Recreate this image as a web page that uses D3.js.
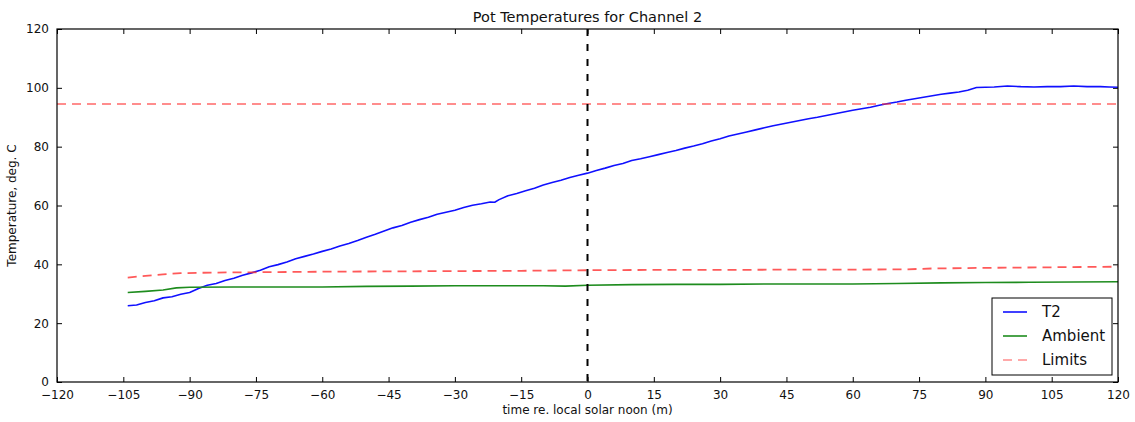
<!DOCTYPE html>
<html>
<head>
<meta charset="utf-8">
<script src="https://cdn.jsdelivr.net/npm/d3@7"></script>
<style>
  html, body { margin: 0; padding: 0; background: #fff; }
  svg { display: block; font-family: "DejaVu Sans", sans-serif; }
</style>
</head>
<body>
<svg id="chart" width="1135" height="422"></svg>
<script>
// Minutes relative to local solar noon
const t2Time = [-104,-102,-100,-98,-96,-94,-92,-90,-88,-86,-84,-82,-80,-78,-76,-74,-72,-70,-68,-66,-64,-62,-60,-58,-56,-54,-52,-50,-48,-46,-44,-42,-40,-38,-36,-34,-32,-30,-28,-26,-24,-22,-21,-20,-18,-16,-14,-12,-10,-8,-6,-4,-2,0,2,4,6,8,10,12,14,16,18,20,22,24,26,28,30,32,34,36,38,40,42,44,46,48,50,52,54,56,58,60,62,64,66,68,70,72,74,76,78,80,82,84,86,88,90,92,95,98,101,104,107,110,113,116,118,120];
// Pot temperature T2 (deg C)
const t2Temp = [25.9,26.2,27.0,27.6,28.6,29.0,29.8,30.4,31.8,32.9,33.5,34.5,35.3,36.3,37.1,38.0,39.2,39.9,40.8,41.9,42.7,43.5,44.4,45.2,46.2,47.1,48.1,49.2,50.2,51.3,52.4,53.2,54.3,55.2,56.0,57.0,57.7,58.4,59.3,60.1,60.6,61.2,61.1,62.0,63.3,64.1,65.0,65.9,67.0,67.8,68.6,69.5,70.3,71.0,71.9,72.7,73.6,74.3,75.3,75.9,76.6,77.3,78.0,78.7,79.5,80.2,81.0,81.9,82.7,83.6,84.3,85.0,85.7,86.4,87.1,87.7,88.3,88.9,89.5,90.0,90.6,91.2,91.8,92.4,92.9,93.4,94.1,94.7,95.2,95.8,96.3,96.8,97.3,97.8,98.2,98.6,99.2,100.1,100.2,100.3,100.6,100.4,100.3,100.4,100.4,100.6,100.4,100.4,100.3,100.2];

const ambTime = [-104,-100,-96,-93,-90,-80,-70,-60,-50,-40,-30,-20,-10,-5,0,10,20,30,40,50,60,70,80,90,100,110,120];
const ambTemp = [30.4,30.8,31.3,32.0,32.2,32.3,32.3,32.3,32.5,32.6,32.7,32.7,32.7,32.6,32.9,33.1,33.2,33.2,33.3,33.3,33.3,33.5,33.7,33.8,33.9,34.0,34.1];

const lowTime = [-104,-100,-96,-92,-85,-75,-60,-45,-30,-15,0,15,30,45,60,72,78,90,105,120];
const lowLimit = [35.5,36.1,36.6,37.0,37.2,37.3,37.5,37.6,37.7,37.8,38.0,38.1,38.1,38.2,38.2,38.3,38.6,38.8,39.0,39.2];

const highTime = [-120, 120];
const highLimit = [94.5, 94.5];

const xTicks = [-120,-105,-90,-75,-60,-45,-30,-15,0,15,30,45,60,75,90,105,120];
const yTicks = [0,20,40,60,80,100,120];

const svg = d3.select("#chart");
const m = { left: 57, right: 1118, top: 29, bottom: 382 };

const x = d3.scaleLinear().domain([-120, 120]).range([m.left, m.right]);
const y = d3.scaleLinear().domain([0, 120]).range([m.bottom, m.top]);

const fmt = d => d < 0 ? "\u2212" + Math.abs(d) : String(d);

// Axes with inward ticks on all four sides
const gx = svg.append("g").attr("transform", `translate(0,${m.bottom})`)
  .call(d3.axisBottom(x).tickValues(xTicks).tickSize(-5).tickPadding(8).tickFormat(fmt));
const gxTop = svg.append("g").attr("transform", `translate(0,${m.top})`)
  .call(d3.axisTop(x).tickValues(xTicks).tickSize(-5).tickFormat(""));
const gy = svg.append("g").attr("transform", `translate(${m.left},0)`)
  .call(d3.axisLeft(y).tickValues(yTicks).tickSize(-5).tickPadding(8).tickFormat(fmt));
const gyR = svg.append("g").attr("transform", `translate(${m.right},0)`)
  .call(d3.axisRight(y).tickValues(yTicks).tickSize(-5).tickFormat(""));

[gx, gxTop, gy, gyR].forEach(g => {
  g.select(".domain").remove();
  g.selectAll(".tick line").attr("stroke", "#000").attr("stroke-width", 1);
  g.selectAll(".tick text").attr("font-size", 12).attr("fill", "#111")
    .attr("font-family", "DejaVu Sans, sans-serif");
});

svg.append("clipPath").attr("id", "plotclip").append("rect")
  .attr("x", m.left).attr("y", m.top).attr("width", m.right - m.left).attr("height", m.bottom - m.top);

const plot = svg.append("g").attr("clip-path", "url(#plotclip)");

const line = d3.line().x(d => x(d[0])).y(d => y(d[1]));
const zip = (a, b) => a.map((v, i) => [v, b[i]]);

plot.append("path").datum(zip(t2Time, t2Temp)).attr("d", line)
  .attr("fill", "none").attr("stroke", "#1010ff").attr("stroke-width", 1.6).attr("stroke-linejoin", "round");
plot.append("path").datum(zip(ambTime, ambTemp)).attr("d", line)
  .attr("fill", "none").attr("stroke", "#1e8c1e").attr("stroke-width", 1.6);
plot.append("path").datum(zip(lowTime, lowLimit)).attr("d", line)
  .attr("fill", "none").attr("stroke", "#ff3030").attr("stroke-opacity", 0.8).attr("stroke-width", 1.8)
  .attr("stroke-dasharray", "9,6");
plot.append("path").datum(zip(highTime, highLimit)).attr("d", line)
  .attr("fill", "none").attr("stroke", "#ff3030").attr("stroke-opacity", 0.55).attr("stroke-width", 1.8)
  .attr("stroke-dasharray", "9,6");

// Solar noon marker
plot.append("line")
  .attr("x1", x(0)).attr("x2", x(0)).attr("y1", m.top).attr("y2", m.bottom)
  .attr("stroke", "#000").attr("stroke-width", 2).attr("stroke-dasharray", "7,8");

// Frame
svg.append("rect").attr("x", m.left).attr("y", m.top)
  .attr("width", m.right - m.left).attr("height", m.bottom - m.top)
  .attr("fill", "none").attr("stroke", "#000").attr("stroke-width", 1.2);

// Titles
svg.append("text").attr("x", (m.left + m.right) / 2).attr("y", 22)
  .attr("text-anchor", "middle").attr("font-size", 14.5).attr("fill", "#111")
  .text("Pot Temperatures for Channel 2");
svg.append("text").attr("x", (m.left + m.right) / 2).attr("y", 414)
  .attr("text-anchor", "middle").attr("font-size", 12).attr("fill", "#111")
  .text("time re. local solar noon (m)");
svg.append("text").attr("transform", `translate(16,${(m.top + m.bottom) / 2}) rotate(-90)`)
  .attr("text-anchor", "middle").attr("font-size", 12).attr("fill", "#111")
  .text("Temperature, deg. C");

// Legend
const legendItems = [
  { label: "T2", color: "#1010ff", dash: null, op: 1 },
  { label: "Ambient", color: "#1e8c1e", dash: null, op: 1 },
  { label: "Limits", color: "#ff3030", dash: "9,6", op: 0.55 }
];
const lg = svg.append("g");
lg.append("rect").attr("x", 992).attr("y", 298).attr("width", 120).attr("height", 77)
  .attr("fill", "#fff").attr("stroke", "#000").attr("stroke-width", 1);
legendItems.forEach((d, i) => {
  const yy = 312 + i * 24;
  lg.append("line").attr("x1", 1003).attr("x2", 1027).attr("y1", yy).attr("y2", yy)
    .attr("stroke", d.color).attr("stroke-width", 1.6).attr("stroke-opacity", d.op)
    .attr("stroke-dasharray", d.dash);
  lg.append("text").attr("x", 1042).attr("y", yy + 5).attr("font-size", 15).attr("fill", "#111")
    .text(d.label);
});
</script>
</body>
</html>
